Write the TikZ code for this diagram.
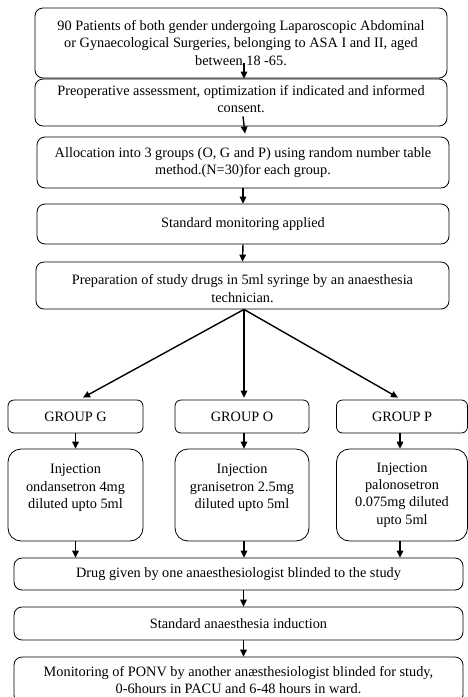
\documentclass[tikz,border=0pt]{standalone}
\usepackage{fontspec}
\setmainfont{Liberation Serif}
\usetikzlibrary{arrows.meta}
\tikzset{
  box/.style={draw, rounded corners=8pt, line width=0.8pt, align=center, inner sep=0pt,
    font=\fontsize{14.3}{17.3}\selectfont},
  grp/.style={box, rounded corners=6pt, minimum height=33pt},
  inj/.style={box, rounded corners=13pt, minimum height=92pt},
  arr/.style={-{Triangle[length=7pt,width=6.5pt]}, line width=1.4pt},
}
\begin{document}
\begin{tikzpicture}[x=1pt,y=1pt]
\useasboundingbox (0,0) rectangle (467,-697);
\node[box, minimum width=412pt, minimum height=70pt] (b1) at (241,-43)
  {90 Patients of both gender undergoing Laparoscopic Abdominal\\or Gynaecological Surgeries, belonging to ASA I and II, aged\\between 18 -65.};
\node[box, minimum width=412pt, minimum height=47pt] (b2) at (241,-102.5)
  {Preoperative assessment, optimization if indicated and informed\\consent.\rule[-7pt]{0pt}{0pt}};
\node[box, minimum width=412pt, minimum height=51pt] (b3) at (243,-162.5)
  {Allocation into 3 groups (O, G and P) using random number table\\method.(N=30)for each group.};
\node[box, minimum width=412pt, minimum height=40pt] (b4) at (243,-224)
  {Standard monitoring applied};
\node[box, minimum width=413pt, minimum height=47pt] (b5) at (242.5,-285.5)
  {\rule{0pt}{16pt}Preparation of study drugs in 5ml syringe by an anaesthesia\\technician.};
\node[grp, minimum width=135pt] (gG) at (75.5,-416.5) {GROUP G};
\node[grp, minimum width=134pt] (gO) at (242,-416.5) {GROUP O};
\node[grp, minimum width=131pt] (gP) at (402,-416.5) {GROUP P};
\node[inj, minimum width=135pt] (iG) at (75.5,-495) {Injection\\ondansetron 4mg\\diluted upto 5ml\\\mbox{}};
\node[inj, minimum width=134pt] (iO) at (242,-495) {Injection\\granisetron 2.5mg\\diluted upto 5ml\\\mbox{}};
\node[inj, minimum width=131pt] (iP) at (402,-495) {Injection\\palonosetron\\0.075mg diluted\\upto 5ml};
\node[box, minimum width=449pt, minimum height=32pt] (d1) at (238.5,-574)
  {Drug given by one anaesthesiologist blinded to the study};
\node[box, minimum width=449pt, minimum height=33pt] (d2) at (238.5,-623.5)
  {Standard anaesthesia induction};
\node[box, minimum width=449pt, minimum height=46pt] (d3) at (238.5,-680)
  {Monitoring of PONV by another anæsthesiologist blinded for study,\\0-6hours in PACU and 6-48 hours in ward.};
% arrows
\draw[arr] ([xshift=3pt,yshift=15pt]b1.south) -- ([xshift=3pt]b2.north);
\draw[arr] ([xshift=2pt,yshift=10pt]b2.south) -- ([xshift=2pt,yshift=3pt]b3.north);
\draw[arr] (b3.south) -- (b4.north);
\draw[arr] (b4.south) -- (b5.north);
\draw[arr] ([xshift=1.5pt]b5.south) -- ([xshift=7.5pt,yshift=2pt]gG.north);
\draw[arr] ([xshift=1.5pt]b5.south) -- ([xshift=2pt,yshift=2pt]gO.north);
\draw[arr] ([xshift=1.5pt]b5.south) -- ([xshift=-4pt,yshift=2pt]gP.north);
\draw[arr] (gG.south) -- (iG.north);
\draw[arr] ([xshift=2pt]gO.south) -- ([xshift=2pt]iO.north);
\draw[arr] ([xshift=-2pt]gP.south) -- ([xshift=-2pt]iP.north);
\draw[arr] (iG.south) -- (iG.south |- d1.north);
\draw[arr] ([xshift=2pt]iO.south) -- ([xshift=2pt]iO.south |- d1.north);
\draw[arr] ([xshift=-2pt]iP.south) -- ([xshift=-2pt]iP.south |- d1.north);
\draw[arr] ([xshift=5pt]d1.south) -- ([xshift=5pt]d2.north);
\draw[arr] ([xshift=5pt]d2.south) -- ([xshift=5pt]d3.north);
\end{tikzpicture}
\end{document}
